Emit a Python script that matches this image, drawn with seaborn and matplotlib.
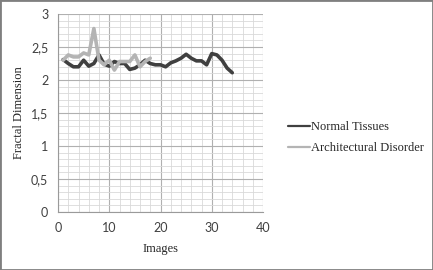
import pandas as pd
import numpy as np
import matplotlib
matplotlib.use("Agg")
import matplotlib.pyplot as plt
from matplotlib.ticker import MultipleLocator, FuncFormatter
from matplotlib.patches import Rectangle
import seaborn as sns

# Values
normal_x = list(range(1, 35))
normal_y = [2.31, 2.25, 2.20, 2.20, 2.30, 2.21, 2.25, 2.38, 2.24, 2.21,
            2.28, 2.25, 2.25, 2.16, 2.18, 2.23, 2.30, 2.25, 2.23, 2.23,
            2.20, 2.26, 2.29, 2.33, 2.39, 2.33, 2.29, 2.29, 2.23, 2.40,
            2.38, 2.30, 2.18, 2.11]

arch_x = list(range(1, 19))
arch_y = [2.30, 2.38, 2.35, 2.35, 2.41, 2.38, 2.78, 2.30, 2.23, 2.30,
          2.15, 2.28, 2.28, 2.28, 2.38, 2.20, 2.28, 2.33]

series_names = ["Normal Tissues", "Architectural Disorder"]
series_colors = ["#404040", "#b4b4b4"]

df = pd.concat([
    pd.DataFrame({"Images": normal_x, "FD": normal_y, "Series": series_names[0]}),
    pd.DataFrame({"Images": arch_x, "FD": arch_y, "Series": series_names[1]}),
])

sns.set_style("white")
plt.rcParams["font.family"] = ["Liberation Serif", "DejaVu Serif"]

fig = plt.figure(figsize=(4.33, 2.70), dpi=100)
ax = fig.add_axes([58 / 433, 1 - 212 / 270, 205 / 433, 198 / 270])

sns.lineplot(data=df, x="Images", y="FD", hue="Series", hue_order=series_names,
             palette=series_colors, linewidth=2.6, ax=ax, legend=False,
             solid_joinstyle="round", solid_capstyle="round")

ax.set_xlim(0, 40)
ax.set_ylim(0, 3)
ax.xaxis.set_major_locator(MultipleLocator(10))
ax.xaxis.set_minor_locator(MultipleLocator(2))
ax.yaxis.set_major_locator(MultipleLocator(0.5))
ax.yaxis.set_minor_locator(MultipleLocator(0.1))
ax.yaxis.set_major_formatter(FuncFormatter(lambda v, p: f"{v:g}".replace(".", ",")))

ax.grid(which="major", color="#b0b0b0", linewidth=0.8)
ax.grid(which="minor", color="#d9d9d9", linewidth=0.6)
ax.set_axisbelow(True)
for side in ["top", "right"]:
    ax.spines[side].set_visible(False)
for side in ["left", "bottom"]:
    ax.spines[side].set_color("#9a9a9a")
    ax.spines[side].set_linewidth(0.8)

ax.tick_params(which="major", length=3, color="#9a9a9a", labelsize=9,
               labelcolor="#404040", pad=4)
ax.tick_params(which="minor", length=0)
for lab in ax.get_xticklabels() + ax.get_yticklabels():
    lab.set_family(["Lato", "DejaVu Sans"])

ax.set_xlabel("Images", fontsize=9, labelpad=7)
ax.set_ylabel("Fractal Dimension", fontsize=9, labelpad=4)

# legend drawn on the right like the original
handles = [plt.Line2D([], [], color=c, linewidth=1.6) for c in series_colors]
fig.legend(handles, series_names, loc="upper left",
           bbox_to_anchor=(277 / 433, 1 - 110 / 270), frameon=False,
           fontsize=9, handlelength=1.75, handletextpad=0.1,
           labelspacing=0.7, borderpad=0.4)

fig.patches.append(Rectangle((0, 0), 1, 1, transform=fig.transFigure,
                             fill=False, edgecolor="#7f7f7f", linewidth=2))

fig.savefig("out.png", dpi=100)
